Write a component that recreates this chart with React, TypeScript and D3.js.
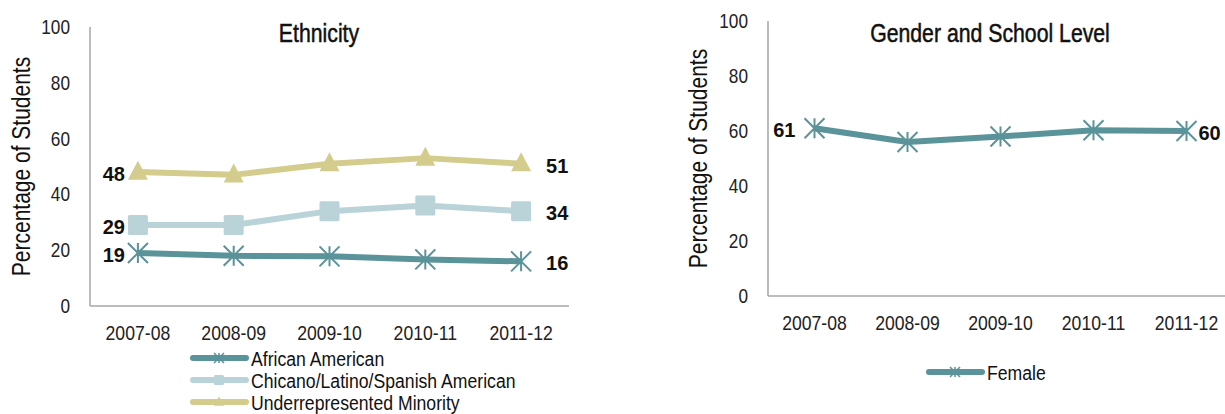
import React from "react";
import * as d3 from "d3";

// School years shown on both charts
const years = ["2007-08", "2008-09", "2009-10", "2010-11", "2011-12"];

// Ethnicity series (percentage of students)
const africanAmerican = [19, 18, 17.8, 16.7, 16];
const chicanoLatino = [29, 29, 34, 36, 34];
const underrepresented = [48, 47, 51, 53, 51];

// Gender series
const female = [61, 56, 58, 60.3, 60];

const yTicks = [0, 20, 40, 60, 80, 100];

const SANS = "'Liberation Sans', Arial, sans-serif";
// horizontal squeeze that gives the regular face a condensed look
const SQUEEZE = 0.84;

const TEAL = "#5a9399";
const LIGHT = "#b9d3d9";
const KHAKI = "#d3cc8c";
const AXIS = "#a6a6a6";

type Anchor = "start" | "middle" | "end";

function NText({
  x, y, size, anchor = "start", rotate = 0, sx = SQUEEZE, fill = "#222", heavy = false, children,
}: {
  x: number; y: number; size: number; anchor?: Anchor; rotate?: number; sx?: number; fill?: string; heavy?: boolean;
  children: React.ReactNode;
}) {
  return (
    <g transform={`translate(${x},${y}) rotate(${rotate}) scale(${sx},1)`}>
      <text
        x={0}
        y={0}
        textAnchor={anchor}
        dominantBaseline="central"
        fontFamily={SANS}
        fontSize={size}
        fill={fill}
        stroke={heavy ? fill : "none"}
        strokeWidth={heavy ? 0.5 : 0}
      >
        {children}
      </text>
    </g>
  );
}

type Marker = "star" | "square" | "triangle";

function MarkerShape({ kind, x, y, size, color }: { kind: Marker; x: number; y: number; size: number; color: string }) {
  const r = size / 2;
  if (kind === "star") {
    const d = `M${x},${y - r}L${x},${y + r}M${x - r},${y - r}L${x + r},${y + r}M${x - r},${y + r}L${x + r},${y - r}`;
    return <path d={d} stroke={color} strokeWidth={size > 12 ? 2 : 1.5} fill="none" />;
  }
  if (kind === "square") {
    return <rect x={x - r} y={y - r} width={size} height={size} rx={1.5} fill={color} />;
  }
  const h = size * 0.95;
  const d = `M${x},${y - h * 0.6}L${x + r},${y + h * 0.4}L${x - r},${y + h * 0.4}Z`;
  return <path d={d} fill={color} />;
}

type Series = { name: string; values: number[]; color: string; marker: Marker };

function Panel({
  x0, x1, yTop, yBottom, title, titleX, yTitleX, series, leftLabelDx, rightLabelDx,
}: {
  x0: number; x1: number; yTop: number; yBottom: number; title: string; titleX: number; yTitleX: number;
  series: Series[]; leftLabelDx: number; rightLabelDx: number;
}) {
  const xScale = d3.scaleBand<string>().domain(years).range([x0, x1]);
  const yScale = d3.scaleLinear().domain([0, 100]).range([yBottom, yTop]);
  const cx = (i: number) => (xScale(years[i]) as number) + xScale.bandwidth() / 2;
  const line = d3
    .line<number>()
    .x((_, i) => cx(i))
    .y((v) => yScale(v));
  const n = years.length;
  return (
    <g>
      <NText x={titleX} y={33} size={25} anchor="middle" sx={0.85} fill="#111" heavy>
        {title}
      </NText>
      <NText x={yTitleX} y={(yTop + yBottom) / 2} size={25} anchor="middle" rotate={-90} fill="#111">
        Percentage of Students
      </NText>
      {yTicks.map((t) => (
        <NText key={t} x={x0 - 20} y={yScale(t)} size={20.5} anchor="end">
          {t}
        </NText>
      ))}
      {years.map((yr, i) => (
        <NText key={yr} x={cx(i)} y={yBottom + 26} size={21} anchor="middle">
          {yr}
        </NText>
      ))}
      <line x1={x0} x2={x0} y1={yTop} y2={yBottom} stroke={AXIS} strokeWidth={1.5} />
      <line x1={x0} x2={x1} y1={yBottom} y2={yBottom} stroke={AXIS} strokeWidth={1.5} />
      {series.map((s) => (
        <g key={s.name}>
          <path d={line(s.values) ?? ""} fill="none" stroke={s.color} strokeWidth={6} strokeLinejoin="round" />
          {s.values.map((v, i) => (
            <MarkerShape key={i} kind={s.marker} x={cx(i)} y={yScale(v)} size={20} color={s.color} />
          ))}
          <text x={cx(0) + leftLabelDx} y={yScale(s.values[0]) + 2} textAnchor="end" dominantBaseline="central" fontFamily={SANS} fontWeight="bold" fontSize={20} fill="#111">
            {Math.round(s.values[0])}
          </text>
          <text x={cx(n - 1) + rightLabelDx} y={yScale(s.values[n - 1]) + 2} textAnchor="start" dominantBaseline="central" fontFamily={SANS} fontWeight="bold" fontSize={20} fill="#111">
            {Math.round(s.values[n - 1])}
          </text>
        </g>
      ))}
    </g>
  );
}

function Legend({ x, y, rowGap, items }: { x: number; y: number; rowGap: number; items: Series[] }) {
  return (
    <g>
      {items.map((s, i) => {
        const yy = y + i * rowGap;
        return (
          <g key={s.name}>
            <line x1={x + 3} x2={x + 56} y1={yy} y2={yy} stroke={s.color} strokeWidth={6} strokeLinecap="round" />
            <MarkerShape kind={s.marker} x={x + 29} y={yy} size={10} color={s.color} />
            <NText x={x + 61} y={yy} size={21} fill="#111">
              {s.name}
            </NText>
          </g>
        );
      })}
    </g>
  );
}

export default function App() {
  const ethnicity: Series[] = [
    { name: "African American", values: africanAmerican, color: TEAL, marker: "star" },
    { name: "Chicano/Latino/Spanish American", values: chicanoLatino, color: LIGHT, marker: "square" },
    { name: "Underrepresented Minority", values: underrepresented, color: KHAKI, marker: "triangle" },
  ];
  const gender: Series[] = [{ name: "Female", values: female, color: TEAL, marker: "star" }];
  return (
    <div style={{ position: "absolute", left: 0, top: 0 }}>
      <svg width={1225} height={414} style={{ display: "block", background: "#fff" }}>
        <Panel
          x0={90} x1={569} yTop={27} yBottom={306}
          title="Ethnicity" titleX={319} yTitleX={21}
          series={ethnicity} leftLabelDx={-13} rightLabelDx={25}
        />
        <Panel
          x0={768} x1={1233} yTop={21} yBottom={296}
          title="Gender and School Level" titleX={990} yTitleX={698}
          series={gender} leftLabelDx={-19} rightLabelDx={12}
        />
        <Legend x={190} y={358} rowGap={22} items={ethnicity} />
        <Legend x={926} y={372} rowGap={22} items={gender} />
      </svg>
    </div>
  );
}
